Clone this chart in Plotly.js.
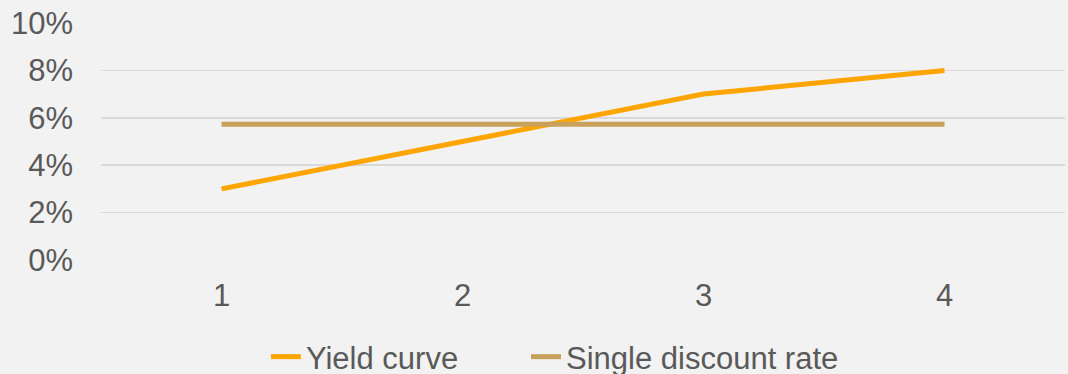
<!DOCTYPE html>
<html>
<head>
<meta charset="utf-8">
<script src="https://cdn.plot.ly/plotly-3.0.1.min.js"></script>
<style>html,body{margin:0;padding:0;background:#f2f2f2;overflow:hidden;}#chart{width:1068px;height:384px;}</style>
</head>
<body>
<div id="chart"></div>
<script>
const categories = ["1", "2", "3", "4"];
const yieldCurve = [0.03, 0.05, 0.07, 0.08];
const singleDiscountRate = [0.0573, 0.0573, 0.0573, 0.0573];
const yTickVals = [0, 0.02, 0.04, 0.06, 0.08, 0.10];
const yTickText = ["0%", "2%", "4%", "6%", "8%", "10%"];
const seriesNames = ["Yield curve", "Single discount rate"];

const gap = "\u00a0\u00a0\u00a0\u00a0\u00a0\u00a0\u00a0\u200a";
const traces = [
  {x: categories, y: yieldCurve, name: seriesNames[0] + gap, type: "scatter", mode: "lines",
   line: {color: "#FFA500", width: 5}},
  {x: categories, y: singleDiscountRate, name: seriesNames[1], type: "scatter", mode: "lines",
   line: {color: "#C9A15A", width: 5}}
];

const layout = {
  width: 1068, height: 384,
  margin: {l: 101, r: 3, t: 23, b: 124},
  paper_bgcolor: "#f2f2f2", plot_bgcolor: "#f2f2f2",
  font: {family: "Liberation Sans, Arial, sans-serif", size: 31, color: "#595959"},
  xaxis: {type: "category", range: [-0.5, 3.5], showgrid: false, zeroline: false, showline: false,
          ticks: "", ticklabelstandoff: 14, fixedrange: true},
  yaxis: {range: [0, 0.10], tickvals: yTickVals, ticktext: yTickText, showgrid: true,
          gridcolor: "#d9d9d9", gridwidth: 1.5, zeroline: false, showline: false, ticks: "",
          ticklabelstandoff: 27, fixedrange: true, automargin: false},
  showlegend: true,
  legend: {orientation: "h", xref: "container", yref: "container",
           x: 0.249, xanchor: "left", y: 0, yanchor: "bottom",
           font: {size: 31, color: "#595959"}, bgcolor: "rgba(0,0,0,0)"}
};

Plotly.newPlot("chart", traces, layout, {displayModeBar: false, staticPlot: true});
</script>
</body>
</html>
